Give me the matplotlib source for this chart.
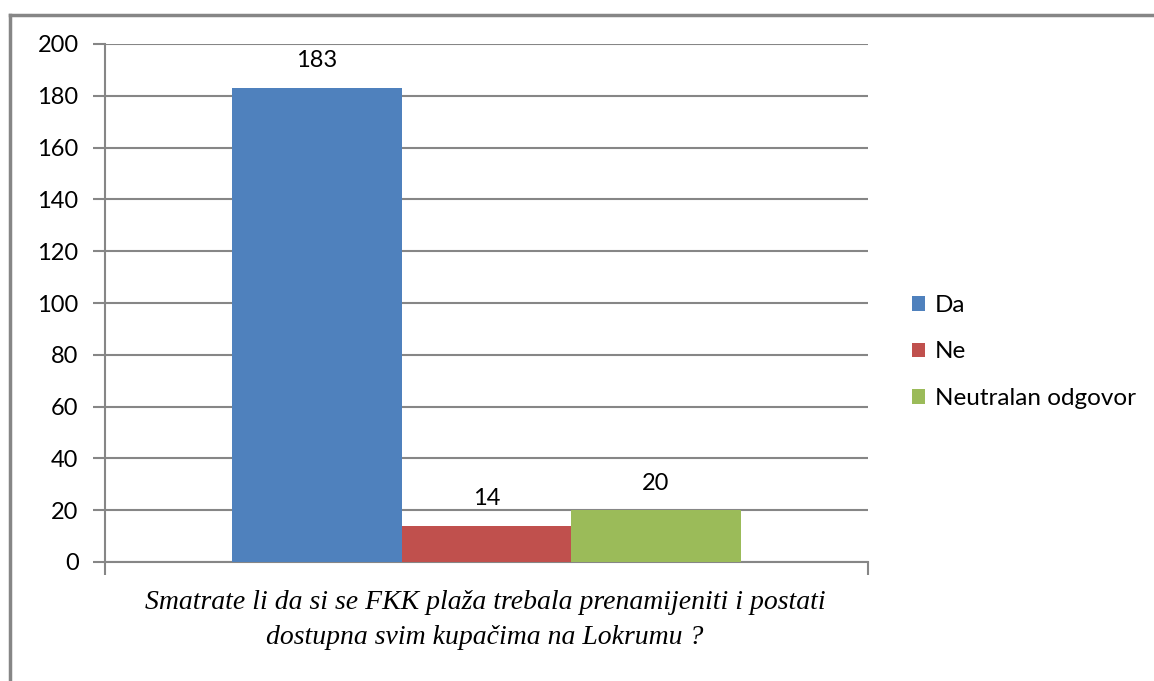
import matplotlib.pyplot as plt
from matplotlib.lines import Line2D

# data
series = ['Da', 'Ne', 'Neutralan odgovor']
values = [183, 14, 20]
colors = ['#4F81BD', '#C0504D', '#9BBB59']
yticks = [0, 20, 40, 60, 80, 100, 120, 140, 160, 180, 200]
title = ('Smatrate li da si se FKK plaža trebala prenamijeniti i postati\n'
         'dostupna svim kupačima na Lokrumu ?')

W, H = 1154, 681
grey = '#868686'

plt.rcParams['font.family'] = ['Lato', 'DejaVu Sans']

fig = plt.figure(figsize=(W / 100, H / 100), dpi=100)
ax = fig.add_axes([105 / W, 1 - 562 / H, (868 - 105) / W, (562 - 44) / H])

bar_w = 1 / 1.5 / len(series)
for i, (name, v, c) in enumerate(zip(series, values, colors)):
    x = (i - (len(series) - 1) / 2) * bar_w
    ax.bar(x, v, width=bar_w, color=c, label=name, zorder=3)
    ax.annotate(str(v), (x, v), xytext=(0, 12), textcoords='offset points',
                ha='center', va='bottom', fontsize=17)

ax.set_xlim(-0.5, 0.5)
ax.set_ylim(0, 200)
ax.set_yticks(yticks)
ax.tick_params(axis='y', labelsize=17, length=9, width=1.5, color=grey, pad=10)
ax.set_xticks([-0.5, 0.5])
ax.set_xticklabels([])
ax.tick_params(axis='x', length=9, width=1.5, color=grey)
ax.grid(axis='y', color=grey, linewidth=1.5, zorder=0)
for s in ['top', 'right']:
    ax.spines[s].set_visible(False)
for s in ['left', 'bottom']:
    ax.spines[s].set_color(grey)
    ax.spines[s].set_linewidth(1.5)

fig.text(485 / W, 1 - 620 / H, title, ha='center', va='center',
         family='Liberation Serif', style='italic', fontsize=20,
         linespacing=1.55)

ax.legend(loc='center left', bbox_to_anchor=(890 / W, 1 - 352 / H),
          bbox_transform=fig.transFigure, frameon=False, fontsize=17.5,
          handlelength=0.55, handleheight=0.55, handletextpad=0.4,
          labelspacing=1.05)

# chart frame (cut off at right and bottom)
fig.add_artist(Line2D([10 / W, 1], [1 - 15 / H, 1 - 15 / H],
                      transform=fig.transFigure, color=grey, linewidth=2.5))
fig.add_artist(Line2D([10 / W, 10 / W], [0, 1 - 15 / H],
                      transform=fig.transFigure, color=grey, linewidth=2.5))

fig.savefig('out.png', dpi=100)
